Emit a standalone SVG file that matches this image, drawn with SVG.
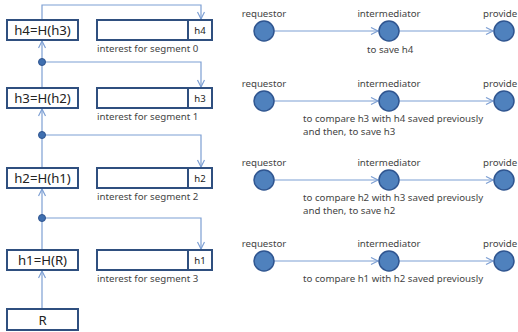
<svg xmlns="http://www.w3.org/2000/svg" width="518" height="332" viewBox="0 0 518 332">
<style>
.box{fill:#fff;stroke:#2f4f7f;stroke-width:2}
.ln{fill:none;stroke:#7d9fd3;stroke-width:1.2}
.dot{fill:#3f6fb0;stroke:#2f5590;stroke-width:1}
.cir{fill:#4f81bd;stroke:#2f5590;stroke-width:1.5}
.t{font-family:"Noto Sans","Liberation Sans",sans-serif;fill:#222}
.big{font-size:13.2px}
.sm{font-size:9.6px}
.lab{font-size:9.7px;fill:#444}
</style>
<defs>
<marker id="a" markerWidth="10" markerHeight="10" refX="8" refY="4" orient="auto" markerUnits="userSpaceOnUse">
<path d="M1,0.5 L8,4 L1,7.5" fill="none" stroke="#7d9fd3" stroke-width="1.2"/>
</marker>
</defs>
<g id="connectors">
<path class="ln" d="M42,20 V5 H201 V19" marker-end="url(#a)"/>
<path class="ln" d="M42,62 H201 V87" marker-end="url(#a)"/>
<path class="ln" d="M42,135 H201 V167" marker-end="url(#a)"/>
<path class="ln" d="M42,218 H201 V249" marker-end="url(#a)"/>
<path class="ln" d="M42,88 V41" marker-end="url(#a)"/>
<path class="ln" d="M42,168 V109" marker-end="url(#a)"/>
<path class="ln" d="M42,250 V189" marker-end="url(#a)"/>
<path class="ln" d="M42,309 V271" marker-end="url(#a)"/>
<path class="ln" d="M274,31 H378" marker-end="url(#a)"/>
<path class="ln" d="M399,31 H493" marker-end="url(#a)"/>
<path class="ln" d="M274,101 H378" marker-end="url(#a)"/>
<path class="ln" d="M399,101 H493" marker-end="url(#a)"/>
<path class="ln" d="M274,180 H378" marker-end="url(#a)"/>
<path class="ln" d="M399,180 H493" marker-end="url(#a)"/>
<path class="ln" d="M274,261 H378" marker-end="url(#a)"/>
<path class="ln" d="M399,261 H493" marker-end="url(#a)"/>
</g>
<g id="dots">
<circle class="dot" cx="42" cy="62" r="3.5"/>
<circle class="dot" cx="42" cy="135" r="3.5"/>
<circle class="dot" cx="42" cy="218" r="3.5"/>
</g>
<g id="h4"><rect class="box" x="7" y="20" width="71" height="20"/><text class="t big" x="42.5" y="35" text-anchor="middle">h4=H(h3)</text></g>
<g id="h3"><rect class="box" x="7" y="88" width="71" height="20"/><text class="t big" x="42.5" y="103" text-anchor="middle">h3=H(h2)</text></g>
<g id="h2"><rect class="box" x="7" y="168" width="71" height="20"/><text class="t big" x="42.5" y="183" text-anchor="middle">h2=H(h1)</text></g>
<g id="h1"><rect class="box" x="7" y="250" width="71" height="20"/><text class="t big" x="42.5" y="265" text-anchor="middle">h1=H(R)</text></g>
<g id="R"><rect class="box" x="7" y="309" width="71" height="21"/><text class="t big" x="42.5" y="325" text-anchor="middle">R</text></g>
<g id="int0"><rect class="box" x="97" y="20" width="115" height="20"/><line x1="188" y1="20" x2="188" y2="40" stroke="#2f4f7f" stroke-width="2"/><text class="t sm" x="200" y="34" text-anchor="middle">h4</text><text class="t lab" x="97" y="52">interest for segment 0</text></g>
<g id="int1"><rect class="box" x="97" y="88" width="115" height="20"/><line x1="188" y1="88" x2="188" y2="108" stroke="#2f4f7f" stroke-width="2"/><text class="t sm" x="200" y="102" text-anchor="middle">h3</text><text class="t lab" x="97" y="120">interest for segment 1</text></g>
<g id="int2"><rect class="box" x="97" y="168" width="115" height="20"/><line x1="188" y1="168" x2="188" y2="188" stroke="#2f4f7f" stroke-width="2"/><text class="t sm" x="200" y="182" text-anchor="middle">h2</text><text class="t lab" x="97" y="200">interest for segment 2</text></g>
<g id="int3"><rect class="box" x="97" y="250" width="115" height="20"/><line x1="188" y1="250" x2="188" y2="270" stroke="#2f4f7f" stroke-width="2"/><text class="t sm" x="200" y="264" text-anchor="middle">h1</text><text class="t lab" x="97" y="282">interest for segment 3</text></g>
<g id="row1">
<circle class="cir" cx="264" cy="31" r="10"/><circle class="cir" cx="389" cy="31" r="10"/><circle class="cir" cx="504" cy="31" r="10"/>
<text class="t lab" x="264" y="17" text-anchor="middle">requestor</text><text class="t lab" x="389" y="17" text-anchor="middle">intermediator</text><text class="t lab" x="483" y="17">provide</text>
<text class="t lab" x="367" y="53">to save h4</text>
</g>
<g id="row2">
<circle class="cir" cx="264" cy="101" r="10"/><circle class="cir" cx="389" cy="101" r="10"/><circle class="cir" cx="504" cy="101" r="10"/>
<text class="t lab" x="264" y="87" text-anchor="middle">requestor</text><text class="t lab" x="389" y="87" text-anchor="middle">intermediator</text><text class="t lab" x="483" y="87">provide</text>
<text class="t lab" x="303" y="122">to compare h3 with h4 saved previously</text><text class="t lab" x="303" y="135">and then, to save h3</text>
</g>
<g id="row3">
<circle class="cir" cx="264" cy="180" r="10"/><circle class="cir" cx="389" cy="180" r="10"/><circle class="cir" cx="504" cy="180" r="10"/>
<text class="t lab" x="264" y="166" text-anchor="middle">requestor</text><text class="t lab" x="389" y="166" text-anchor="middle">intermediator</text><text class="t lab" x="483" y="166">provide</text>
<text class="t lab" x="303" y="201">to compare h2 with h3 saved previously</text><text class="t lab" x="303" y="214">and then, to save h2</text>
</g>
<g id="row4">
<circle class="cir" cx="264" cy="261" r="10"/><circle class="cir" cx="389" cy="261" r="10"/><circle class="cir" cx="504" cy="261" r="10"/>
<text class="t lab" x="264" y="247" text-anchor="middle">requestor</text><text class="t lab" x="389" y="247" text-anchor="middle">intermediator</text><text class="t lab" x="483" y="247">provide</text>
<text class="t lab" x="303" y="282">to compare h1 with h2 saved previously</text>
</g>
</svg>
